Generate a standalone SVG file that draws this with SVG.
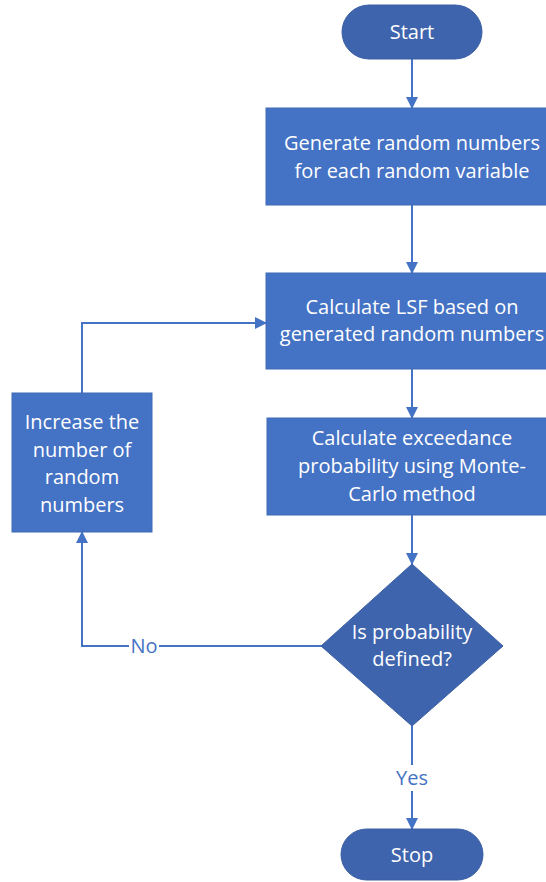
<svg xmlns="http://www.w3.org/2000/svg" width="546" height="882" viewBox="0 0 546 882">
<defs>
<marker id="arr" markerWidth="12" markerHeight="12" refX="11" refY="6" orient="auto" markerUnits="userSpaceOnUse">
<path d="M0,0 L12,6 L0,12 Z" fill="#4472C4"/>
</marker>
<style>
.box{fill:#4472C4;stroke:#3F6AB5;stroke-width:1}
.dark{fill:#3E64AD;stroke:#3A5FA5;stroke-width:1}
.t{font-family:"Open Sans","Liberation Sans",sans-serif;font-size:20px;fill:#FFFFFF;text-anchor:middle}
.lbl{font-family:"Open Sans","Liberation Sans",sans-serif;font-size:20px;fill:#4472C4;text-anchor:middle}
.c{fill:none;stroke:#4472C4;stroke-width:2}
</style>
</defs>
<rect width="546" height="882" fill="#FFFFFF"/>
<g id="connectors">
<line class="c" x1="412" y1="59" x2="412" y2="108" marker-end="url(#arr)"/>
<line class="c" x1="412" y1="205" x2="412" y2="273" marker-end="url(#arr)"/>
<line class="c" x1="412" y1="369" x2="412" y2="418" marker-end="url(#arr)"/>
<line class="c" x1="412" y1="515" x2="412" y2="564" marker-end="url(#arr)"/>
<line class="c" x1="412" y1="726" x2="412" y2="829" marker-end="url(#arr)"/>
<polyline class="c" points="321,646 82,646 82,532" marker-end="url(#arr)"/>
<polyline class="c" points="82,393 82,323 266,323" marker-end="url(#arr)"/>
<rect x="129" y="633" width="30" height="26" fill="#FFFFFF"/>
<text class="lbl" x="144" y="653">No</text>
<rect x="394" y="765" width="36" height="26" fill="#FFFFFF"/>
<text class="lbl" x="412" y="785">Yes</text>
</g>
<g id="start">
<rect class="dark" x="342" y="5" width="140" height="54" rx="27" ry="27"/>
<text class="t" x="412" y="39">Start</text>
</g>
<g id="generate">
<rect class="box" x="266" y="108" width="292" height="97"/>
<text class="t" x="412" y="150">Generate random numbers</text>
<text class="t" x="412" y="178">for each random variable</text>
</g>
<g id="lsf">
<rect class="box" x="266" y="273" width="292" height="96"/>
<text class="t" x="412" y="314">Calculate LSF based on</text>
<text class="t" x="412" y="341">generated random numbers</text>
</g>
<g id="exceedance">
<rect class="box" x="267" y="418" width="290" height="97"/>
<text class="t" x="412" y="445">Calculate exceedance</text>
<text class="t" x="412" y="473">probability using Monte-</text>
<text class="t" x="412" y="501">Carlo method</text>
</g>
<g id="increase">
<rect class="box" x="12" y="393" width="140" height="139"/>
<text class="t" x="82" y="429">Increase the</text>
<text class="t" x="82" y="457">number of</text>
<text class="t" x="82" y="484">random</text>
<text class="t" x="82" y="512">numbers</text>
</g>
<g id="decision">
<polygon class="dark" points="412,564 503,646 412,726 321,646"/>
<text class="t" x="412" y="639">Is probability</text>
<text class="t" x="412" y="666">defined?</text>
</g>
<g id="stop">
<rect class="dark" x="341" y="829" width="142" height="51" rx="25.5" ry="25.5"/>
<text class="t" x="412" y="862">Stop</text>
</g>
</svg>
